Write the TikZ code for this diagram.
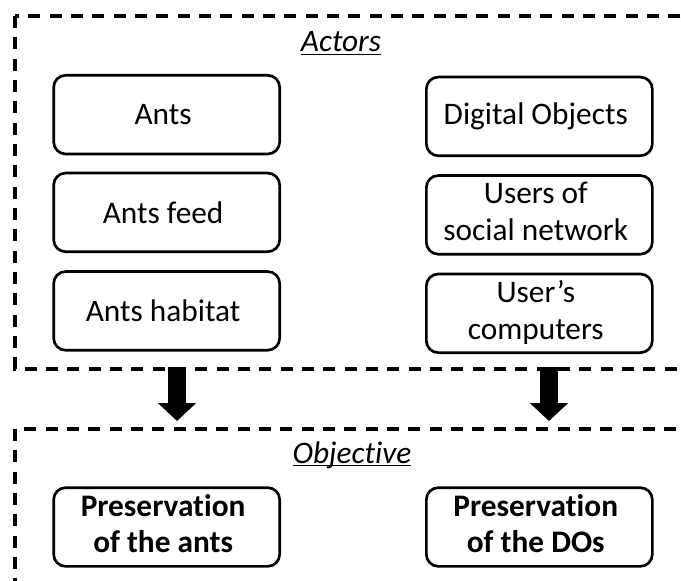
\documentclass[tikz,border=0pt]{standalone}
\usepackage{fontspec}
\setmainfont{Carlito}[Ligatures=NoCommon]
\usetikzlibrary{matrix,arrows.meta}

\newcommand\twolines[2]{\begin{tabular}{@{}c@{}}#1\\#2\end{tabular}}

\begin{document}
\begin{tikzpicture}[x=0.75pt, y=-0.75pt,
%line join=round,
every node/.style={%
    inner sep=2pt, font=\fontsize{23.5}{27.5}\selectfont
    },
box/.style={draw, line width=2pt, rounded corners=9pt, align=center,
    minimum width=169.5pt, minimum height=59pt},
frame/.style={line width=3pt, dash pattern=on 9pt off 7pt},
bigarrow/.style={line width=13.5pt, -{Triangle[width=28pt,length=13.5pt]}}
]
\clip (0,0) rectangle (681,581);
\fill[white] (0,0) rectangle (681,581);

\draw[frame] (15,16) rectangle (720,369);
\draw[frame] (15,429) rectangle (720,620);

\node[anchor=base] (actors) at (341,52) {\underline{\smash{\textit{Actors}}}};
\node[anchor=base] (objective) at (352,463) {\underline{\smash{\textit{Objective}}}};

\matrix (a) at (353,214) [matrix of nodes, nodes={box}, column sep=108pt, row sep=11pt, ampersand replacement=\&]{
Ants \& Digital Objects \\
Ants feed \& \twolines{Users of}{social network} \\
Ants habitat \& \twolines{User’s}{computers} \\
};

\matrix (b) at (353,527) [matrix of nodes, column sep=108pt, ampersand replacement=\&,
    nodes={box, font=\fontsize{23.5}{27.5}\selectfont\bfseries}]{
\twolines{Preservation}{of the ants} \& \twolines{Preservation}{of the DOs} \\
};

\coordinate (l1) at (177,367);
\coordinate (l2) at (177,421);
\coordinate (r1) at (549,367);
\coordinate (r2) at (549,421);

\foreach \i/\j in {l1/l2, r1/r2}
    \draw [bigarrow] (\i) -- (\j);

\end{tikzpicture}
\end{document}
